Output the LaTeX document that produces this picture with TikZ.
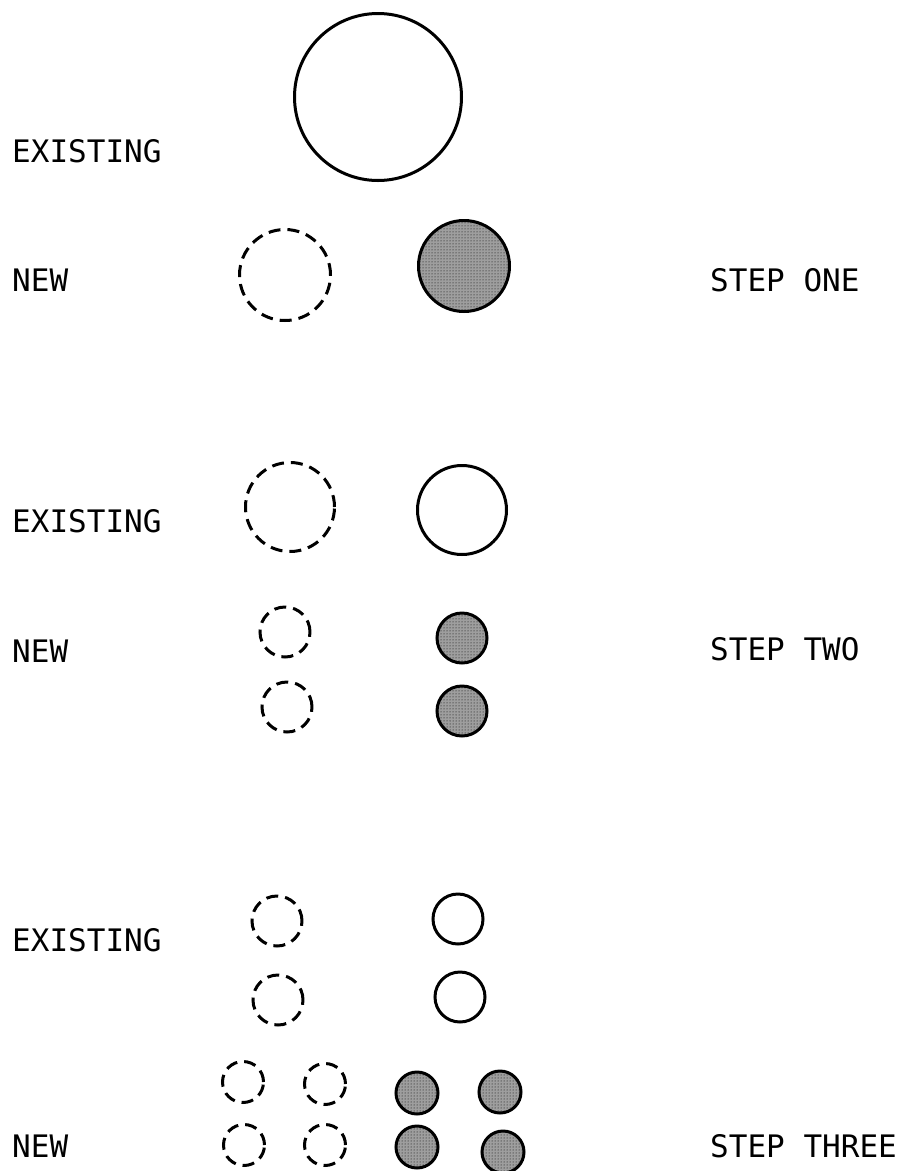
\documentclass[tikz,border=0pt]{standalone}
\usepackage{fontspec}
\setmonofont{DejaVu Sans Mono}
\usetikzlibrary{patterns}

\begin{document}
\begin{tikzpicture}[
    x=1pt, y=-1pt,
    tag/.style={anchor=west, inner sep=0pt, font=\ttfamily\fontsize{31}{36}\selectfont},
    solidring/.style={circle, draw, line width=3pt, inner sep=0pt, minimum size=#1},
    dashring/.style={circle, draw, line width=3pt, dash pattern=on 12pt off 7pt, inner sep=0pt, minimum size=#1},
    dotdisc/.style={circle, draw, line width=3pt, fill=black!38, postaction={pattern=dots, pattern color=black}, inner sep=0pt, minimum size=#1}
]
    \useasboundingbox (0,0) rectangle (903,1171);

    % step one
    \node[tag] (ex1) at (12,151) {EXISTING};
    \node[tag] (new1) at (12,280) {NEW};
    \node[tag] (step1) at (710,280) {STEP ONE};
    \node[solidring=167pt] (big1) at (378,97) {};
    \node[dashring=91pt] (d1) at (285,275) {};
    \node[dotdisc=91pt] (f1) at (464,266) {};

    % step two
    \node[tag] (ex2) at (12,521) {EXISTING};
    \node[tag] (new2) at (12,651) {NEW};
    \node[tag] (step2) at (710,649) {STEP TWO};
    \node[dashring=89pt] (d2) at (290,507) {};
    \node[solidring=89pt] (s2) at (462,510) {};
    \node[dashring=50pt] (d2a) at (285,632) {};
    \node[dashring=50pt] (d2b) at (287,707) {};
    \node[dotdisc=50pt] (f2a) at (462,638) {};
    \node[dotdisc=50pt] (f2b) at (462,711) {};

    % step three
    \node[tag] (ex3) at (12,940) {EXISTING};
    \node[tag] (new3) at (12,1146) {NEW};
    \node[tag] (step3) at (710,1146) {STEP THREE};
    \node[dashring=50pt] (d3a) at (277,921) {};
    \node[dashring=50pt] (d3b) at (278,1000) {};
    \node[solidring=50pt] (s3a) at (458,919) {};
    \node[solidring=50pt] (s3b) at (460,997) {};
    \node[dashring=41pt] (d3c) at (243,1082) {};
    \node[dashring=41pt] (d3d) at (325,1084) {};
    \node[dashring=41pt] (d3e) at (244,1145) {};
    \node[dashring=41pt] (d3f) at (325,1145) {};
    \node[dotdisc=42pt] (f3a) at (417,1093) {};
    \node[dotdisc=42pt] (f3b) at (500,1092) {};
    \node[dotdisc=42pt] (f3c) at (417,1147) {};
    \node[dotdisc=42pt] (f3d) at (503,1152) {};
\end{tikzpicture}
\end{document}
